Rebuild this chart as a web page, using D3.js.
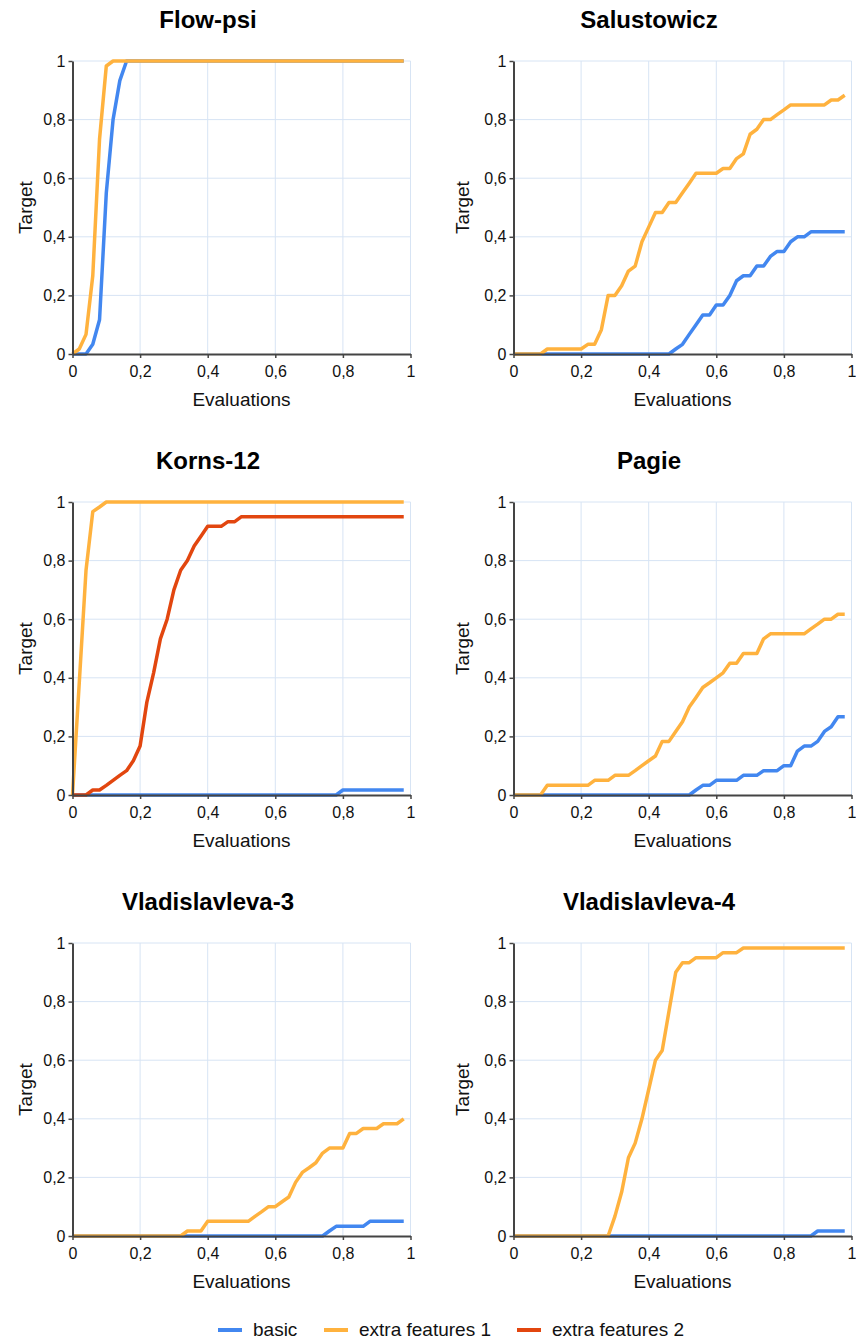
<!DOCTYPE html>
<html>
<head>
<meta charset="utf-8">
<script src="https://cdn.jsdelivr.net/npm/d3@7"></script>
<style>
  body { margin: 0; background: #fff; }
  svg { font-family: "Liberation Sans", Arial, sans-serif; }
</style>
</head>
<body>
<div id="chart"></div>
<script>
const xs = [0,0.02,0.04,0.06,0.08,0.1,0.12,0.14,0.16,0.18,
            0.2,0.22,0.24,0.26,0.28,0.3,0.32,0.34,0.36,0.38,
            0.4,0.42,0.44,0.46,0.48,0.5,0.52,0.54,0.56,0.58,
            0.6,0.62,0.64,0.66,0.68,0.7,0.72,0.74,0.76,0.78,
            0.8,0.82,0.84,0.86,0.88,0.9,0.92,0.94,0.96,0.98];

const seriesNames = ['basic', 'extra features 1', 'extra features 2'];
const seriesColors = ['#4287f0', '#ffb23e', '#e2460f'];
const axisTicks = [0, 0.2, 0.4, 0.6, 0.8, 1];
const titles = ['Flow-psi', 'Salustowicz', 'Korns-12', 'Pagie', 'Vladislavleva-3', 'Vladislavleva-4'];

const flowBasic = [0,0,0,0.033,0.117,0.55,0.8,0.933,1,1,
                   1,1,1,1,1,1,1,1,1,1, 1,1,1,1,1,1,1,1,1,1,
                   1,1,1,1,1,1,1,1,1,1, 1,1,1,1,1,1,1,1,1,1];
const flowExtra1 = [0,0.017,0.067,0.267,0.733,0.983,1,1,1,1,
                    1,1,1,1,1,1,1,1,1,1, 1,1,1,1,1,1,1,1,1,1,
                    1,1,1,1,1,1,1,1,1,1, 1,1,1,1,1,1,1,1,1,1];

const saluBasic = [0,0,0,0,0,0,0,0,0,0,
                   0,0,0,0,0,0,0,0,0,0,
                   0,0,0,0,0.017,0.033,0.067,0.1,0.133,0.133,
                   0.167,0.167,0.2,0.25,0.267,0.267,0.3,0.3,0.333,0.35,
                   0.35,0.383,0.4,0.4,0.417,0.417,0.417,0.417,0.417,0.417];
const saluExtra1 = [0,0,0,0,0,0.017,0.017,0.017,0.017,0.017,
                    0.017,0.033,0.033,0.083,0.2,0.2,0.233,0.283,0.3,0.383,
                    0.433,0.483,0.483,0.517,0.517,0.55,0.583,0.617,0.617,0.617,
                    0.617,0.633,0.633,0.667,0.683,0.75,0.767,0.8,0.8,0.817,
                    0.833,0.85,0.85,0.85,0.85,0.85,0.85,0.867,0.867,0.883];

const kornsBasic = [0,0,0,0,0,0,0,0,0,0, 0,0,0,0,0,0,0,0,0,0,
                    0,0,0,0,0,0,0,0,0,0, 0,0,0,0,0,0,0,0,0,0,
                    0.017,0.017,0.017,0.017,0.017,0.017,0.017,0.017,0.017,0.017];
const kornsExtra1 = [0,0.383,0.767,0.967,0.983,1,1,1,1,1,
                     1,1,1,1,1,1,1,1,1,1, 1,1,1,1,1,1,1,1,1,1,
                     1,1,1,1,1,1,1,1,1,1, 1,1,1,1,1,1,1,1,1,1];
const kornsExtra2 = [0,0,0,0.017,0.017,0.033,0.05,0.067,0.083,0.117,
                     0.167,0.317,0.417,0.533,0.6,0.7,0.767,0.8,0.85,0.883,
                     0.917,0.917,0.917,0.933,0.933,0.95,0.95,0.95,0.95,0.95,
                     0.95,0.95,0.95,0.95,0.95,0.95,0.95,0.95,0.95,0.95,
                     0.95,0.95,0.95,0.95,0.95,0.95,0.95,0.95,0.95,0.95];

const pagieBasic = [0,0,0,0,0,0,0,0,0,0,
                    0,0,0,0,0,0,0,0,0,0,
                    0,0,0,0,0,0,0,0.017,0.033,0.033,
                    0.05,0.05,0.05,0.05,0.067,0.067,0.067,0.083,0.083,0.083,
                    0.1,0.1,0.15,0.167,0.167,0.183,0.217,0.233,0.267,0.267];
const pagieExtra1 = [0,0,0,0,0,0.033,0.033,0.033,0.033,0.033,
                     0.033,0.033,0.05,0.05,0.05,0.067,0.067,0.067,0.083,0.1,
                     0.117,0.133,0.183,0.183,0.217,0.25,0.3,0.333,0.367,0.383,
                     0.4,0.417,0.45,0.45,0.483,0.483,0.483,0.533,0.55,0.55,
                     0.55,0.55,0.55,0.55,0.567,0.583,0.6,0.6,0.617,0.617];

const vlad3Basic = [0,0,0,0,0,0,0,0,0,0, 0,0,0,0,0,0,0,0,0,0,
                    0,0,0,0,0,0,0,0,0,0,
                    0,0,0,0,0,0,0,0,0.017,0.033,
                    0.033,0.033,0.033,0.033,0.05,0.05,0.05,0.05,0.05,0.05];
const vlad3Extra1 = [0,0,0,0,0,0,0,0,0,0,
                     0,0,0,0,0,0,0,0.017,0.017,0.017,
                     0.05,0.05,0.05,0.05,0.05,0.05,0.05,0.067,0.083,0.1,
                     0.1,0.117,0.133,0.183,0.217,0.233,0.25,0.283,0.3,0.3,
                     0.3,0.35,0.35,0.367,0.367,0.367,0.383,0.383,0.383,0.4];

const vlad4Basic = [0,0,0,0,0,0,0,0,0,0, 0,0,0,0,0,0,0,0,0,0,
                    0,0,0,0,0,0,0,0,0,0, 0,0,0,0,0,0,0,0,0,0,
                    0,0,0,0,0,0.017,0.017,0.017,0.017,0.017];
const vlad4Extra1 = [0,0,0,0,0,0,0,0,0,0,
                     0,0,0,0,0,0.067,0.15,0.267,0.317,0.4,
                     0.5,0.6,0.633,0.767,0.9,0.933,0.933,0.95,0.95,0.95,
                     0.95,0.967,0.967,0.967,0.983,0.983,0.983,0.983,0.983,0.983,
                     0.983,0.983,0.983,0.983,0.983,0.983,0.983,0.983,0.983,0.983];

// one entry per panel: [basic, extra1, extra2]
const panelSeries = [
  [flowBasic, flowExtra1, null],
  [saluBasic, saluExtra1, null],
  [kornsBasic, kornsExtra1, kornsExtra2],
  [pagieBasic, pagieExtra1, null],
  [vlad3Basic, vlad3Extra1, null],
  [vlad4Basic, vlad4Extra1, null]
];

const W = 856, H = 1344;
const plotW = 338, plotH = 293;
const colLeft = [72.5, 513.5];
const rowTop = [61, 502, 943];
const titleX = [208, 649];
const yTitleX = [25, 462];

const svg = d3.select('#chart').append('svg')
  .attr('width', W)
  .attr('height', H);

const fmt = d => String(d).replace('.', ',');

panelSeries.forEach((series, i) => {
  const col = i % 2, row = Math.floor(i / 2);
  const left = colLeft[col], top = rowTop[row];

  const x = d3.scaleLinear().domain([0, 1]).range([0, plotW]);
  const y = d3.scaleLinear().domain([0, 1]).range([plotH, 0]);

  const g = svg.append('g').attr('transform', `translate(${left},${top})`);

  svg.append('text')
    .attr('x', titleX[col])
    .attr('y', top - 33)
    .attr('text-anchor', 'middle')
    .attr('font-size', 24)
    .attr('font-weight', 'bold')
    .attr('fill', '#000')
    .text(titles[i]);

  // grid
  g.selectAll('.gx').data(axisTicks.slice(1)).join('line')
    .attr('x1', d => x(d)).attr('x2', d => x(d))
    .attr('y1', 0).attr('y2', plotH)
    .attr('stroke', '#d7e4f4').attr('stroke-width', 1);
  g.selectAll('.gy').data(axisTicks.slice(1)).join('line')
    .attr('x1', 0).attr('x2', plotW)
    .attr('y1', d => y(d)).attr('y2', d => y(d))
    .attr('stroke', '#d7e4f4').attr('stroke-width', 1);

  const line = d3.line()
    .x((d, j) => x(xs[j]))
    .y(d => y(d));

  series.forEach((vals, s) => {
    if (!vals) return;
    g.append('path')
      .datum(vals)
      .attr('fill', 'none')
      .attr('stroke', seriesColors[s])
      .attr('stroke-width', 3.5)
      .attr('stroke-linejoin', 'round')
      .attr('d', line);
  });

  const xAxis = g.append('g')
    .attr('transform', `translate(0,${plotH})`)
    .call(d3.axisBottom(x).tickValues(axisTicks).tickFormat(fmt).tickSize(4).tickSizeOuter(0).tickPadding(8));
  const yAxis = g.append('g')
    .call(d3.axisLeft(y).tickValues(axisTicks).tickFormat(fmt).tickSize(4).tickSizeOuter(0).tickPadding(3));

  [xAxis, yAxis].forEach(a => {
    a.select('.domain').attr('stroke', '#444').attr('stroke-width', 2);
    a.selectAll('.tick line').attr('stroke', '#444').attr('stroke-width', 1.5);
    a.selectAll('.tick text')
      .attr('font-size', 16)
      .attr('font-family', '"Liberation Sans", Arial, sans-serif')
      .attr('fill', '#111');
  });

  g.append('text')
    .attr('x', plotW / 2)
    .attr('y', plotH + 52)
    .attr('text-anchor', 'middle')
    .attr('font-size', 19)
    .attr('fill', '#111')
    .text('Evaluations');

  svg.append('text')
    .attr('transform', `translate(${yTitleX[col]},${top + plotH / 2}) rotate(-90)`)
    .attr('dy', '0.35em')
    .attr('text-anchor', 'middle')
    .attr('font-size', 19)
    .attr('fill', '#111')
    .text('Target');
});

// legend
const legendX = [218, 324, 517];
const legend = svg.append('g');
seriesNames.forEach((name, k) => {
  legend.append('line')
    .attr('x1', legendX[k]).attr('x2', legendX[k] + 24)
    .attr('y1', 1330).attr('y2', 1330)
    .attr('stroke', seriesColors[k])
    .attr('stroke-width', 4);
  legend.append('text')
    .attr('x', legendX[k] + 35)
    .attr('y', 1336)
    .attr('font-size', 19)
    .attr('fill', '#111')
    .text(name);
});
</script>
</body>
</html>
